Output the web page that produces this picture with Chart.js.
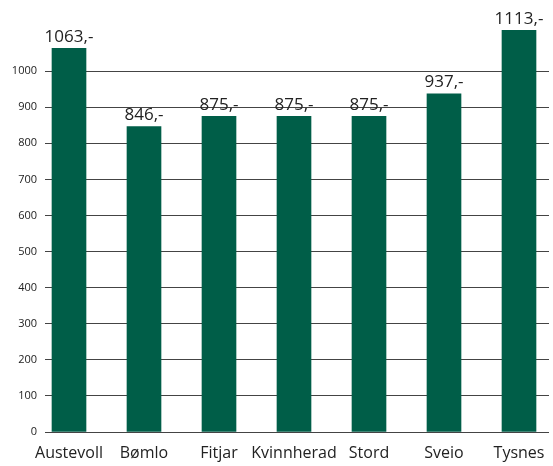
<!DOCTYPE html>
<html lang="no">
<head>
    <meta charset="UTF-8">
    <title>Pris per kommune</title>
    <script src="https://cdn.jsdelivr.net/npm/chart.js"></script>
    <style>
        body {
            margin: 0;
            background: #fff;
        }
        .chart-box {
            width: 553px;
            height: 466px;
        }
    </style>
</head>
<body>
    <div class="chart-box">
        <canvas id="priceChart"></canvas>
    </div>

    <script>
        const kommuner = ['Austevoll', 'Bømlo', 'Fitjar', 'Kvinnherad', 'Stord', 'Sveio', 'Tysnes'];
        const priser = [1063, 846, 875, 875, 875, 937, 1113];
        const yTicks = [0, 100, 200, 300, 400, 500, 600, 700, 800, 900, 1000];

        // writes "1063,-" etc above each bar
        const valueLabels = {
            id: 'valueLabels',
            afterDatasetsDraw(chart) {
                const ctx = chart.ctx;
                const meta = chart.getDatasetMeta(0);
                ctx.save();
                ctx.font = '17px "Open Sans", sans-serif';
                ctx.fillStyle = '#222';
                ctx.textAlign = 'center';
                ctx.textBaseline = 'bottom';
                meta.data.forEach((bar, i) => {
                    ctx.fillText(priser[i] + ',-', bar.x, bar.y - 3);
                });
                ctx.restore();
            }
        };

        const ctx = document.getElementById('priceChart').getContext('2d');
        new Chart(ctx, {
            type: 'bar',
            data: {
                datasets: [{
                    data: priser.map((p, i) => ({ x: i, y: p })),
                    backgroundColor: '#005e48',
                    barThickness: 34,
                    clip: false
                }]
            },
            options: {
                responsive: true,
                maintainAspectRatio: false,
                animation: false,
                layout: {
                    padding: { top: 17, right: 4, left: 0, bottom: 0 }
                },
                plugins: {
                    legend: { display: false },
                    tooltip: { enabled: false }
                },
                scales: {
                    x: {
                        type: 'linear',
                        offset: false,
                        min: -0.32,
                        max: 6.4,
                        afterBuildTicks: (scale) => {
                            scale.ticks = kommuner.map((k, i) => ({ value: i }));
                        },
                        afterFit: (scale) => { scale.height = 34; },
                        grid: { display: false },
                        border: { display: false },
                        ticks: {
                            autoSkip: false,
                            maxRotation: 0,
                            padding: 4,
                            color: '#222',
                            font: { family: '"Open Sans", sans-serif', size: 16 },
                            callback: (v) => kommuner[v]
                        }
                    },
                    y: {
                        min: 0,
                        max: 1150,
                        afterBuildTicks: (scale) => {
                            scale.ticks = yTicks.map(v => ({ value: v }));
                        },
                        afterFit: (scale) => { scale.width = 45; },
                        grid: {
                            color: '#444',
                            lineWidth: 1,
                            drawTicks: false
                        },
                        border: { display: false },
                        ticks: {
                            padding: 8,
                            color: '#222',
                            font: { family: '"Open Sans", sans-serif', size: 11 },
                            callback: (v) => String(v)
                        }
                    }
                }
            },
            plugins: [valueLabels]
        });
    </script>
</body>
</html>
